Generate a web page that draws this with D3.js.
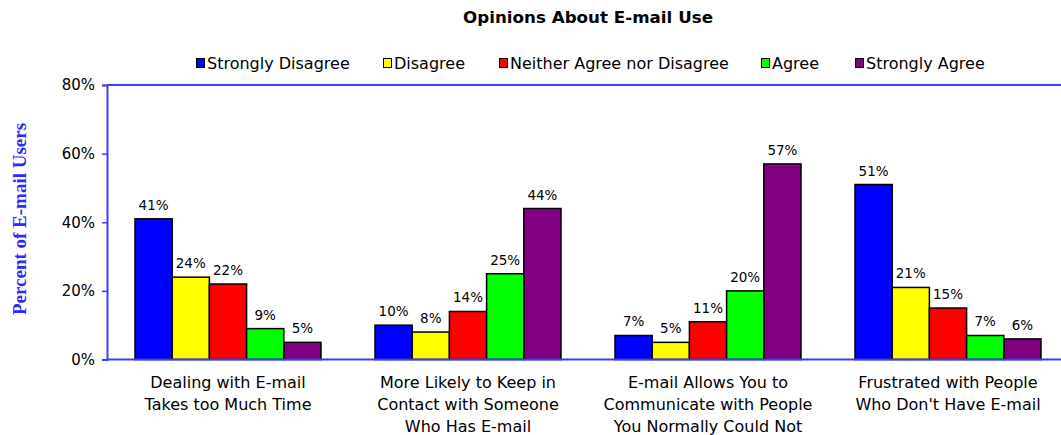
<!DOCTYPE html>
<html><head><meta charset="utf-8">
<script src="https://cdn.jsdelivr.net/npm/d3@7/dist/d3.min.js"></script>
<style>body{margin:0;background:#fff}svg{display:block}</style>
</head><body>
<script>
const categories = [
  ["Dealing with E-mail","Takes too Much Time"],
  ["More Likely to Keep in","Contact with Someone","Who Has E-mail"],
  ["E-mail Allows You to","Communicate with People","You Normally Could Not"],
  ["Frustrated with People","Who Don't Have E-mail"]
];
const seriesNames = ["Strongly Disagree","Disagree","Neither Agree nor Disagree","Agree","Strongly Agree"];
const stronglyDisagree = [41,10,7,51];
const disagree = [24,8,5,21];
const neither = [22,14,11,15];
const agree = [9,25,20,7];
const stronglyAgree = [5,44,57,6];
const yTicks = [0,20,40,60,80];
const colors = ["#0000ff","#ffff00","#ff0000","#00ff00","#800080"];
const seriesValues = [stronglyDisagree, disagree, neither, agree, stronglyAgree];

const W=1061,H=435;
const svg=d3.select("body").append("svg").attr("width",W).attr("height",H);
const font="'DejaVu Sans', Verdana, sans-serif";
const axisColor="#3c3cff";

const x0=d3.scaleBand().domain(d3.range(categories.length)).range([108,1068]).paddingInner(0.225).paddingOuter(0.1125);
const x1=d3.scaleBand().domain(d3.range(seriesNames.length)).range([0,x0.bandwidth()]);
const y=d3.scaleLinear().domain([0,80]).range([359.5,85]);

// title
svg.append("text").attr("x",588).attr("y",23).attr("text-anchor","middle")
  .attr("font-family",font).attr("font-weight","bold").attr("font-size",15)
  .attr("textLength",250).attr("lengthAdjust","spacingAndGlyphs").text("Opinions About E-mail Use");

// legend
const legendX=[196,383,499,761,855];
seriesNames.forEach((n,i)=>{
  const g=svg.append("g").attr("transform",`translate(${legendX[i]},0)`);
  g.append("rect").attr("x",0.5).attr("y",58.5).attr("width",8).attr("height",9).attr("fill",colors[i]).attr("stroke","#000").attr("stroke-width",1);
  g.append("text").attr("x",11).attr("y",69).attr("font-family",font).attr("font-size",16).text(n);
});

// frame lines
svg.append("line").attr("x1",107).attr("x2",W).attr("y1",y(80)).attr("y2",y(80)).attr("stroke",axisColor).attr("stroke-width",2);

// bars
seriesValues.forEach((vals,s)=>{
  vals.forEach((v,c)=>{
    const bx=x0(c)+x1(s);
    svg.append("rect").attr("x",bx).attr("y",y(v)).attr("width",x1.bandwidth()).attr("height",y(0)-y(v))
      .attr("fill",colors[s]).attr("stroke","#000").attr("stroke-width",1.5);
    svg.append("text").attr("x",bx+x1.bandwidth()/2).attr("y",y(v)-9).attr("text-anchor","middle")
      .attr("font-family",font).attr("font-size",13.5).text(v+"%");
  });
});

// y axis
const yAxis=d3.axisLeft(y).tickValues(yTicks).tickFormat(d=>d+"%").tickSize(5).tickPadding(7);
const ga=svg.append("g").attr("transform","translate(107,0)").call(yAxis);
ga.select(".domain").attr("stroke",axisColor).attr("stroke-width",2);
ga.selectAll(".tick line").attr("stroke",axisColor).attr("stroke-width",1.5);
ga.selectAll(".tick text").attr("font-family",font).attr("font-size",15).attr("fill","#000");

// x axis
svg.append("line").attr("x1",106).attr("x2",W).attr("y1",y(0)).attr("y2",y(0)).attr("stroke",axisColor).attr("stroke-width",2);
categories.forEach((lines,c)=>{
  const t=svg.append("text").attr("text-anchor","middle").attr("font-family",font).attr("font-size",16);
  lines.forEach((l,k)=>{
    t.append("tspan").attr("x",x0(c)+x0.bandwidth()/2).attr("y",388+k*22).text(l);
  });
});

// y title
svg.append("text").attr("transform","translate(26,219) rotate(-90)").attr("text-anchor","middle")
  .attr("font-family","'Liberation Serif','Times New Roman',serif").attr("font-weight","bold").attr("font-size",19)
  .attr("fill","#2a2aff").text("Percent of E-mail Users");
</script>
</body></html>
